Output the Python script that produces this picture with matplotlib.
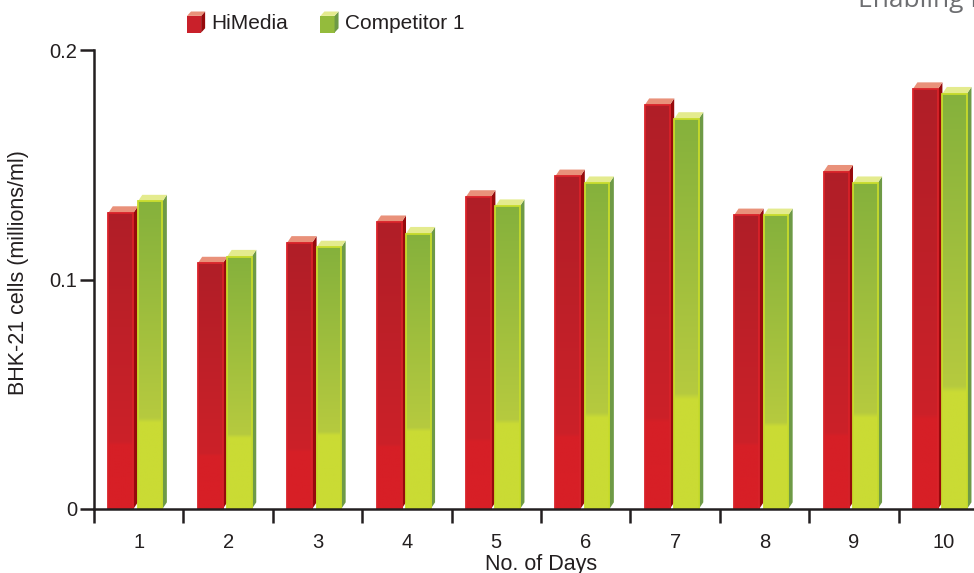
import numpy as np
import matplotlib.pyplot as plt
from matplotlib.patches import Polygon, Rectangle
from matplotlib.colors import to_rgb
from matplotlib.legend_handler import HandlerBase

plt.rcParams['font.family'] = ['Liberation Sans', 'DejaVu Sans']

days = ['1', '2', '3', '4', '5', '6', '7', '8', '9', '10']
himedia = [0.129, 0.107, 0.116, 0.125, 0.136, 0.145, 0.176, 0.128, 0.147, 0.183]
competitor = [0.134, 0.110, 0.114, 0.120, 0.132, 0.142, 0.170, 0.128, 0.142, 0.181]
yticks = [0, 0.1, 0.2]
ytick_labels = ['0', '0.1', '0.2']

ink = '#231f20'

# colour sets: front gradient stops, edge, side face, top face
red = dict(stops=[(0, '#d81f26'), (0.215, '#d61f26'), (0.225, '#cc2129'), (1, '#b01e27')],
           edge='#d9232a', side='#960a0c', top='#e9917a', icon='#c9202a')
green = dict(stops=[(0, '#cadb34'), (0.28, '#cadb34'), (0.295, '#b6ca3f'), (1, '#85b13c')],
             edge='#c8dc2b', side='#6e9a46', top='#e4eb8e', icon='#94bb3c')

dx = 0.05     # depth of the fake 3d faces, x data units
dy = 0.0029   # depth of the fake 3d faces, y data units


def gradient(stops, n=300):
    fr = np.linspace(0, 1, n)
    pos = [s[0] for s in stops]
    cols = np.array([to_rgb(s[1]) for s in stops])
    img = np.stack([np.interp(fr, pos, cols[:, i]) for i in range(3)], axis=1)
    return img[:, None, :]


class CubeHandler(HandlerBase):
    def __init__(self, style):
        super().__init__()
        self.style = style

    def create_artists(self, legend, orig_handle, xdescent, ydescent,
                       width, height, fontsize, trans):
        d = 0.22 * width
        w = width - d
        x0 = -xdescent
        y0 = -ydescent - 0.25 * height
        h = 1.15 * height
        e = 0.3 * height
        s = self.style
        front = Rectangle((x0, y0), w, h, fc=s['icon'], ec='none', transform=trans)
        side = Polygon([(x0 + w, y0), (x0 + w + d, y0 + e), (x0 + w + d, y0 + h + e), (x0 + w, y0 + h)],
                       fc=s['side'], ec='none', transform=trans)
        top = Polygon([(x0, y0 + h), (x0 + w, y0 + h), (x0 + w + d, y0 + h + e), (x0 + d, y0 + h + e)],
                      fc=s['top'], ec='none', transform=trans)
        return [front, side, top]


fig = plt.figure(figsize=(9.74, 5.73), dpi=100)
ax = fig.add_axes([94 / 974, 64 / 573, 894 / 974, 459 / 573])

x = np.arange(1, len(days) + 1)


def draw_bars(offset, width, values, style):
    grad = gradient(style['stops'])
    bars = ax.bar(x + offset, values, width, align='edge', color='none',
                  edgecolor=style['edge'], linewidth=1.3, zorder=3)
    for b in bars:
        x0, w, h = b.get_x(), b.get_width(), b.get_height()
        ax.imshow(grad, extent=[x0, x0 + w, 0, h], origin='lower', aspect='auto',
                  interpolation='bilinear', zorder=2)
        ax.add_patch(Polygon([(x0 + w, 0), (x0 + w + dx, dy), (x0 + w + dx, h + dy), (x0 + w, h)],
                             closed=True, fc=style['side'], ec='none', zorder=2))
        ax.add_patch(Polygon([(x0, h), (x0 + w, h), (x0 + w + dx, h + dy), (x0 + dx, h + dy)],
                             closed=True, fc=style['top'], ec='none', zorder=2))
    return bars


draw_bars(-0.34, 0.28, himedia, red)
draw_bars(-0.01, 0.275, competitor, green)

ax.set_xlim(0.5, len(days) + 0.5)
ax.set_ylim(0, 0.2)

# boundary ticks between days, labels centred on each day
ax.set_xticks(np.arange(0.5, len(days) + 0.5))
ax.set_xticklabels([])
ax.set_xticks(x, minor=True)
ax.set_xticklabels(days, minor=True)
ax.tick_params(axis='x', which='major', length=10, width=1.8, color=ink, direction='out')
ax.tick_params(axis='x', which='minor', length=0, pad=17, labelsize=14.5, labelcolor=ink)

ax.set_yticks(yticks)
ax.set_yticklabels(ytick_labels)
ax.tick_params(axis='y', length=10, width=1.8, color=ink, pad=2, labelsize=14.5, labelcolor=ink)

for side in ['top', 'right']:
    ax.spines[side].set_visible(False)
for side in ['left', 'bottom']:
    ax.spines[side].set_color(ink)
    ax.spines[side].set_linewidth(1.8)
    ax.spines[side].set_zorder(5)

ax.set_xlabel('No. of Days', fontsize=15.5, color=ink, labelpad=2)
ax.set_ylabel('BHK-21 cells (millions/ml)', fontsize=15.5, color=ink)
ax.yaxis.set_label_coords(-0.073, 0.515)

h1 = Rectangle((0, 0), 1, 1)
h2 = Rectangle((0, 0), 1, 1)
fig.legend([h1, h2], ['HiMedia', 'Competitor 1'],
           handler_map={h1: CubeHandler(red), h2: CubeHandler(green)},
           loc='upper left', bbox_to_anchor=(187 / 974, 1 - 14 / 573),
           ncol=2, frameon=False, fontsize=15, handlelength=0.87,
           handletextpad=0.3, columnspacing=1.55, borderpad=0, borderaxespad=0,
           labelcolor=ink)

fig.text(858 / 974, 1 - 7 / 573, 'Enabling Life', fontsize=19, color='#6d6e71',
         family=['Open Sans', 'DejaVu Sans'], va='baseline', ha='left')

fig.savefig('out.png', dpi=100)
